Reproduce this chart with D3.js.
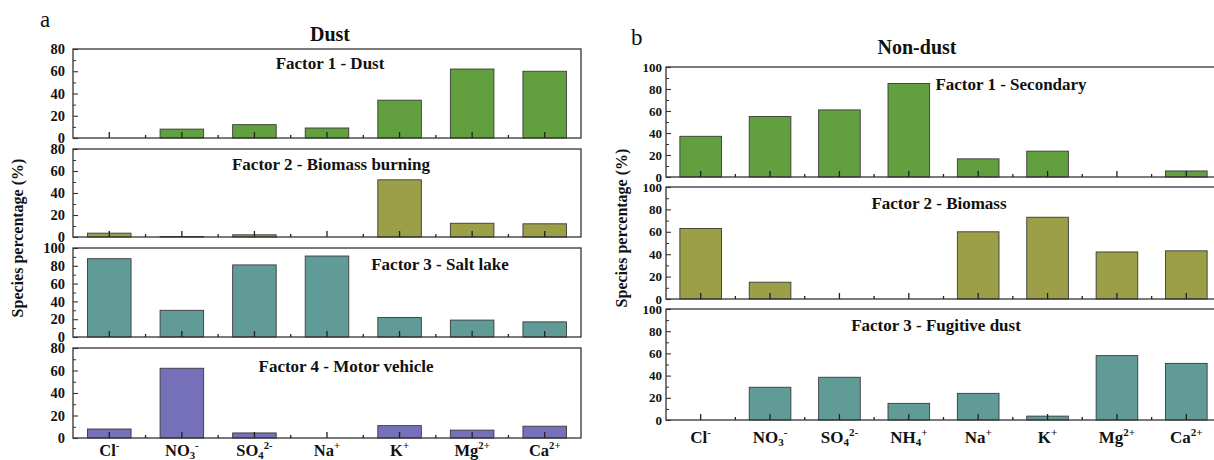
<!DOCTYPE html>
<html><head><meta charset="utf-8">
<script src="https://cdn.jsdelivr.net/npm/d3@7"></script>
<style>
body{margin:0;background:#fff;}
svg{display:block;}
text{font-family:"Liberation Serif","Times New Roman",serif;}
</style></head>
<body><svg id="chart" width="1214" height="460"></svg>
<script>
// ---------- data ----------
const dustCategories = ["Cl-","NO3-","SO42-","Na+","K+","Mg2+","Ca2+"];
const nonDustCategories = ["Cl-","NO3-","SO42-","NH4+","Na+","K+","Mg2+","Ca2+"];

const dustFactor1 = [0, 8, 12, 9, 34, 62, 60];
const dustFactor2 = [3.5, 0.5, 2, 0, 52, 12.5, 12];
const dustFactor3 = [88, 30, 81, 91, 22, 19, 17];
const dustFactor4 = [8, 62, 4.5, 0, 11, 7, 10.5];

const nonDustFactor1 = [37, 55, 61, 85, 16.5, 23.5, 0, 5.5];
const nonDustFactor2 = [63, 15, 0, 0, 60, 73, 42, 43];
const nonDustFactor3 = [0, 29.5, 38.5, 15, 24, 3.5, 58, 51];

const dustTitles = ["Factor 1 - Dust","Factor 2 - Biomass burning","Factor 3 - Salt lake","Factor 4 - Motor vehicle"];
const nonDustTitles = ["Factor 1 - Secondary","Factor 2 - Biomass","Factor 3 - Fugitive dust"];
const dustYMax = [80, 80, 100, 80];
const nonDustYMax = [100, 100, 100];

// label parts: [base, sub, sup]
const labelParts = {
  "Cl-":["Cl","","-"], "NO3-":["NO","3","-"], "SO42-":["SO","4","2-"],
  "NH4+":["NH","4","+"], "Na+":["Na","","+"], "K+":["K","","+"],
  "Mg2+":["Mg","","2+"], "Ca2+":["Ca","","2+"]
};

// ---------- styles ----------
const colGreen = "#62a03f", colOlive = "#9c9e48", colTeal = "#619b98", colPurple = "#7670b9";
const svg = d3.select("#chart");

function drawPanel(o){
  const g = svg.append("g");
  const x = d3.scaleBand().domain(o.cats).range([o.x0, o.x1]).paddingInner(0.4).paddingOuter(0.2);
  const y = d3.scaleLinear().domain([0, o.ymax]).range([o.y1, o.y0]);
  // bars
  g.selectAll("rect.bar").data(o.values).enter().append("rect")
    .attr("x",(d,i)=>x(o.cats[i])).attr("width",x.bandwidth())
    .attr("y",d=>y(d)).attr("height",d=>y(0)-y(d))
    .attr("fill",o.color).attr("stroke","#3a3a3a").attr("stroke-width",0.9);
  // frame
  g.append("rect").attr("x",o.x0).attr("y",o.y0).attr("width",o.x1-o.x0).attr("height",o.y1-o.y0)
    .attr("fill","none").attr("stroke","#333").attr("stroke-width",1.3);
  // y axis major
  const ya = g.append("g").attr("transform",`translate(${o.x0},0)`)
    .call(d3.axisLeft(y).tickValues(d3.range(0,o.ymax+1,20)).tickSize(-5).tickPadding(o.pad));
  ya.select(".domain").remove();
  ya.selectAll("line").attr("stroke","#333").attr("stroke-width",1.1);
  ya.selectAll("text").attr("font-size",o.tickFont).attr("font-weight","bold").attr("fill","#111")
    .attr("font-family","Liberation Serif, serif");
  // y minor
  const ym = g.append("g").attr("transform",`translate(${o.x0},0)`)
    .call(d3.axisLeft(y).tickValues(d3.range(10,o.ymax,20)).tickSize(-3).tickFormat(""));
  ym.select(".domain").remove();
  ym.selectAll("line").attr("stroke","#333");
  // x ticks
  const xa = g.append("g").attr("transform",`translate(0,${o.y1})`)
    .call(d3.axisBottom(x).tickSize(-6).tickFormat(""));
  xa.select(".domain").remove();
  xa.selectAll("line").attr("stroke","#222").attr("stroke-width",1.3);
  const step = x.step();
  g.selectAll("line.minor").data(d3.range(1,o.cats.length)).enter().append("line")
    .attr("x1",i=>o.x0+i*step).attr("x2",i=>o.x0+i*step)
    .attr("y1",o.y1).attr("y2",o.y1-3).attr("stroke","#222").attr("stroke-width",1.3);
  // title
  g.append("text").attr("x",o.tx).attr("y",o.ty).attr("text-anchor","middle")
    .attr("font-size",o.titleFont).attr("font-weight","bold").attr("fill","#111").text(o.title);
  // category labels
  if(o.showLabels){
    o.cats.forEach(c=>{
      const p = labelParts[c];
      const t = g.append("text").attr("x",x(c)+x.bandwidth()/2).attr("y",o.labelY)
        .attr("text-anchor","middle").attr("font-size",o.labelFont).attr("font-weight","bold").attr("fill","#111");
      t.append("tspan").text(p[0]);
      if(p[1]) t.append("tspan").attr("dy",3).attr("font-size",o.labelFont*0.65).text(p[1]);
      if(p[2]) t.append("tspan").attr("dy",p[1]? -10 : -7).attr("font-size",o.labelFont*0.65).text(p[2]);
    });
  }
}

// ---------- panel a (Dust) ----------
svg.append("text").attr("x",40).attr("y",27).attr("font-size",23).attr("fill","#111").text("a");
svg.append("text").attr("x",330).attr("y",41).attr("text-anchor","middle").attr("font-size",20)
  .attr("font-weight","bold").attr("fill","#111").text("Dust");
svg.append("text").attr("transform","translate(23,238) rotate(-90)").attr("text-anchor","middle")
  .attr("font-size",16).attr("font-weight","bold").attr("fill","#111").text("Species percentage (%)");

const dustVals = [dustFactor1, dustFactor2, dustFactor3, dustFactor4];
const dustColors = [colGreen, colOlive, colTeal, colPurple];
const dustY = [[49,138],[149,237],[248,337],[348,438]];
const dustTitlePos = [[330,69],[331,170],[440,270],[346,372]];
dustVals.forEach((v,i)=>drawPanel({
  cats:dustCategories, values:v, ymax:dustYMax[i], color:dustColors[i],
  x0:73, x1:581, y0:dustY[i][0], y1:dustY[i][1], pad:8, tickFont:14.5,
  title:dustTitles[i], tx:dustTitlePos[i][0], ty:dustTitlePos[i][1], titleFont:17,
  showLabels:i===3, labelY:456, labelFont:16.5
}));

// ---------- panel b (Non-dust) ----------
svg.append("text").attr("x",631).attr("y",45).attr("font-size",23).attr("fill","#111").text("b");
svg.append("text").attr("x",917).attr("y",54).attr("text-anchor","middle").attr("font-size",20)
  .attr("font-weight","bold").attr("fill","#111").text("Non-dust");
svg.append("text").attr("transform","translate(627,228) rotate(-90)").attr("text-anchor","middle")
  .attr("font-size",16).attr("font-weight","bold").attr("fill","#111").text("Species percentage (%)");

const nonDustVals = [nonDustFactor1, nonDustFactor2, nonDustFactor3];
const nonDustColors = [colGreen, colOlive, colTeal];
const nonDustY = [[67,177],[187,299],[309,420]];
const nonDustTitlePos = [[1011,90],[939,209],[936,331]];
nonDustVals.forEach((v,i)=>drawPanel({
  cats:nonDustCategories, values:v, ymax:nonDustYMax[i], color:nonDustColors[i],
  x0:666, x1:1221, y0:nonDustY[i][0], y1:nonDustY[i][1], pad:4, tickFont:13,
  title:nonDustTitles[i], tx:nonDustTitlePos[i][0], ty:nonDustTitlePos[i][1], titleFont:17,
  showLabels:i===2, labelY:443, labelFont:17
}));
</script></body></html>
